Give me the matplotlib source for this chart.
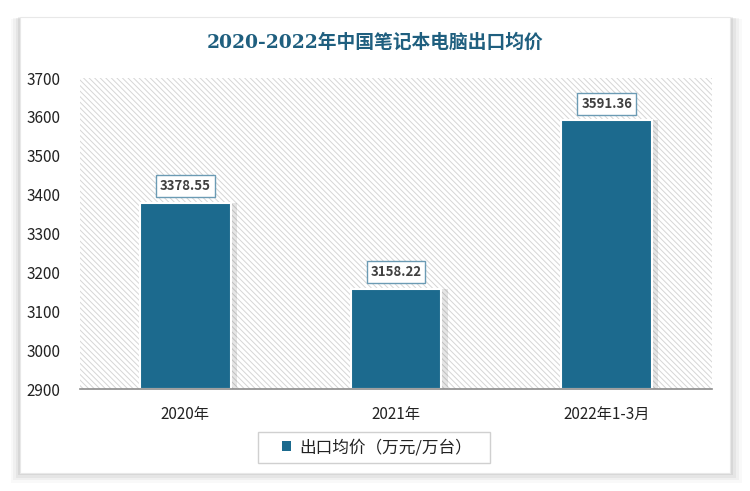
import matplotlib
matplotlib.use("Agg")
import matplotlib.pyplot as plt
from matplotlib.patches import Rectangle

plt.rcParams['font.family'] = ['Noto Sans CJK SC', 'DejaVu Sans']
plt.rcParams['hatch.color'] = '#d6d6d6'
plt.rcParams['hatch.linewidth'] = 0.7

categories = ["2020年", "2021年", "2022年1-3月"]
values = [3378.55, 3158.22, 3591.36]
yticks = [2900, 3000, 3100, 3200, 3300, 3400, 3500, 3600, 3700]
title = "2020-2022年中国笔记本电脑出口均价"
series_name = "出口均价（万元/万台）"

bar_color = "#1c6a8e"

fig = plt.figure(figsize=(7.5, 4.91), dpi=100)

# card with soft shadow
cx, cy, cw, ch = 0.0267, 0.0367, 0.9467, 0.9287
for i, a in enumerate([0.025, 0.035, 0.045, 0.06]):
    g = (4 - i) * 0.005
    fig.patches.append(Rectangle((cx - g * 0.6, cy - g * 1.0), cw + g * 1.4, ch + g * 0.8,
                                 transform=fig.transFigure, facecolor="#000000", alpha=a,
                                 edgecolor="none", zorder=0))
fig.patches.append(Rectangle((cx, cy), cw, ch, transform=fig.transFigure,
                             facecolor="white", edgecolor="#e8e8e8", linewidth=0.8, zorder=1))

ax = fig.add_axes([0.1067, 0.2077, 0.8426, 0.6334])
ax.set_zorder(2)
ax.patch.set_visible(False)
ax.add_patch(Rectangle((0, 0), 1, 1, transform=ax.transAxes, facecolor="white",
                       hatch="\\\\\\\\\\\\", edgecolor="#d6d6d6", linewidth=0, zorder=0))

x = list(range(len(categories)))
# bar shadows
ax.bar([i + 0.02 for i in x], [v - 2900 for v in values], bottom=2900, width=0.45,
       color="#000000", alpha=0.10, zorder=1)
ax.bar(x, [v - 2900 for v in values], bottom=2900, width=0.43, color=bar_color,
       edgecolor="white", linewidth=1.5, zorder=2)

for i, v in zip(x, values):
    ax.annotate(f"{v:.2f}", (i, v), xytext=(0, 12), textcoords="offset points",
                ha="center", va="center", fontsize=9.5, fontweight="bold", color="#404040",
                bbox=dict(boxstyle="square,pad=0.3", facecolor="white",
                          edgecolor="#6b9bb4", linewidth=1.0), zorder=5)

ax.set_xlim(-0.5, 2.5)
ax.set_ylim(2900, 3700)
ax.set_yticks(yticks)
ax.set_xticks(x)
ax.set_xticklabels(categories)
ax.tick_params(axis="y", length=0, labelsize=11, colors="#222222", pad=14)
ax.tick_params(axis="x", length=0, labelsize=11, colors="#222222", pad=12)
for s in ["left", "right", "top"]:
    ax.spines[s].set_visible(False)
ax.spines["bottom"].set_color("#8c8c8c")
ax.spines["bottom"].set_linewidth(1.2)

# serif digits, CJK falls through to Noto Sans CJK
fig.text(0.5, 0.913, title, ha="center", va="center", fontsize=13.5,
         fontweight="bold", color="#1f5f7f",
         family=["DejaVu Serif", "Noto Sans CJK SC"])

# legend frame drawn separately for the wide, flat box of the reference
fig.patches.append(Rectangle((0.344, 0.057), 0.309, 0.063, transform=fig.transFigure,
                             facecolor="white", edgecolor="#d0d0d0", linewidth=1.0, zorder=3))
leg = fig.legend([Rectangle((0, 0), 1, 1, facecolor=bar_color)], [series_name],
                 loc="center", bbox_to_anchor=(0.503, 0.0885), fontsize=12,
                 frameon=False, handlelength=0.55, handleheight=0.55,
                 handletextpad=0.5, borderpad=0.2, borderaxespad=0)
leg.set_zorder(4)
for t in leg.get_texts():
    t.set_color("#222222")

fig.savefig("out.png", dpi=100)
